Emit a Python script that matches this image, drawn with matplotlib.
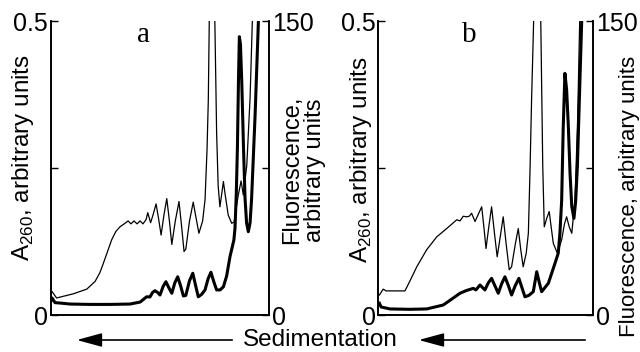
import matplotlib
matplotlib.use("Agg")
import matplotlib.pyplot as plt
from matplotlib.patches import FancyArrowPatch

plt.rcParams['font.family'] = ['Liberation Sans', 'DejaVu Sans']
plt.rcParams['mathtext.fontset'] = 'custom'
plt.rcParams['mathtext.rm'] = 'Liberation Sans'

# panel a: thin = A260 (left axis), thick = fluorescence (right axis)
a_thin_x = [0, 0.6, 2.7, 10.3, 16.5, 20.3, 22.5, 24.1, 26.0, 27.9, 29.8, 31.7, 34.0, 35.4,
            36.7, 38.1, 39.5, 40.9, 42.2, 43.6, 44.4, 45.7, 46.8, 48.2, 49.3, 50.5, 51.8,
            53.1, 54.3, 55.4, 57.0, 58.7, 59.9, 61.0, 61.8, 63.5, 65.2, 66.5, 67.8, 69.5,
            70.6, 71.5, 72.1, 72.6, 73.8, 75.0, 75.9, 76.6, 77.4, 78.2, 79.0, 79.8, 81.2,
            82.8, 83.9, 85.0, 85.8, 87.1, 88.1, 89.7, 91.2, 92.4]
a_thin_y = [0.036, 0.040, 0.029, 0.036, 0.044, 0.057, 0.072, 0.088, 0.108, 0.128, 0.142,
            0.150, 0.156, 0.160, 0.155, 0.160, 0.155, 0.160, 0.155, 0.162, 0.174, 0.157,
            0.170, 0.189, 0.165, 0.136, 0.170, 0.198, 0.160, 0.120, 0.160, 0.193, 0.150,
            0.108, 0.112, 0.160, 0.192, 0.165, 0.139, 0.160, 0.196, 0.28, 0.366, 0.52, 0.70,
            0.52, 0.31, 0.22, 0.184, 0.205, 0.227, 0.205, 0.170, 0.156, 0.158, 0.185, 0.204,
            0.228, 0.204, 0.255, 0.369, 0.52]
a_thick_x = [0, 0.6, 2.0, 4.3, 8.8, 18, 27.1, 36.3, 40.9, 43.9, 45.4, 46.6, 47.7, 48.9, 50.0,
             51.4, 52.7, 54.0, 55.4, 56.8, 58.1, 59.4, 60.7, 61.8, 63.5, 65.0, 66.3, 67.5,
             69.0, 70.6, 72.0, 73.3, 74.6, 75.9, 77.5, 79.0, 80.5, 82.0, 83.8, 84.3, 84.9,
             85.4, 85.9, 86.3, 86.8, 87.4, 88.2, 88.9, 89.6, 90.4, 91.2, 91.9, 93.5, 95.0,
             95.7]
a_thick_y = [6.8, 8.7, 6.3, 6.1, 5.6, 5.4, 5.4, 5.6, 6.6, 9.3, 9.2, 11.5, 12.4, 11.5, 10.2,
             14.5, 17.0, 14.0, 11.1, 16.5, 19.5, 15.0, 9.7, 10.0, 17.5, 21.3, 15.0, 9.3,
             10.5, 12.8, 18.5, 21.8, 17.0, 12.8, 12.8, 14.4, 20.0, 29.7, 38.3, 44.2, 62.0,
             85.0, 120.0, 142.0, 138.0, 119.0, 85.0, 59.5, 47.0, 42.5, 47.0, 59.5, 102.0,
             149.6, 160.0]

# panel b
b_thin_x = [0.5, 2.3, 3.6, 12.4, 15.0, 17.9, 22.5, 27.2, 31.8, 36.5, 38.0, 39.5, 41.1, 42.3,
            43.4, 45.0, 46.6, 48.1, 49.1, 50.1, 51.4, 52.7, 54.0, 55.3, 56.8, 58.1, 59.5,
            60.9, 62.0, 63.7, 65.1, 66.3, 67.4, 68.8, 69.8, 70.6, 71.3, 72.4, 73.8, 75.5,
            76.5, 77.2, 78.4, 79.5, 80.4, 81.4, 83.3, 85.3, 86.6, 87.6, 88.8, 90.0, 91.5,
            92.7, 93.8]
b_thin_y = [0.034, 0.044, 0.041, 0.041, 0.060, 0.082, 0.111, 0.133, 0.147, 0.162, 0.160,
            0.168, 0.167, 0.168, 0.173, 0.159, 0.172, 0.184, 0.150, 0.113, 0.150, 0.184,
            0.140, 0.099, 0.135, 0.167, 0.120, 0.077, 0.082, 0.120, 0.147, 0.110, 0.082,
            0.105, 0.139, 0.25, 0.366, 0.52, 0.70, 0.52, 0.252, 0.150, 0.165, 0.176, 0.150,
            0.122, 0.105, 0.128, 0.155, 0.167, 0.150, 0.139, 0.196, 0.33, 0.52]
b_thick_x = [0.5, 1.3, 5.4, 14.7, 22.5, 26.0, 30.2, 34.0, 38.0, 41.0, 44.2, 45.4, 47.3, 49.6,
             51.2, 52.7, 54.2, 55.8, 57.4, 58.9, 60.5, 62.0, 63.7, 65.4, 66.8, 68.2, 70.0,
             72.1, 73.7, 75.0, 76.0, 79.1, 82.2, 83.7, 84.5, 85.3, 86.0, 86.8, 87.6, 88.4,
             89.2, 90.0, 91.0, 91.8, 92.6, 94.6, 95.2]
b_thick_y = [6.0, 4.1, 3.1, 2.9, 3.1, 4.0, 5.1, 8.0, 11.1, 12.5, 13.6, 12.8, 15.3, 12.8,
             16.5, 18.7, 15.0, 11.1, 16.0, 19.5, 15.0, 10.2, 15.0, 18.7, 14.0, 9.3, 10.0,
             11.9, 22.1, 16.0, 11.9, 16.2, 26.4, 31.5, 42.0, 58.7, 95.0, 123.3, 115.0, 96.1,
             72.0, 55.3, 49.3, 58.0, 75.7, 149.6, 160.0]

fig = plt.figure(figsize=(6.4, 3.52), dpi=100)
FS = 18


def panel(rect, tx, ty, kx, ky, letter):
    ax = fig.add_axes(rect)
    ax.plot(tx, ty, color='black', lw=0.9)
    ax.set_xlim(0, 100)
    ax.set_ylim(0, 0.5)
    ax.set_yticks([0, 0.25, 0.5])
    ax.set_yticklabels(['0', '', '0.5'])
    ax.set_xticks([])
    ax.spines['top'].set_visible(False)
    ax2 = ax.twinx()
    ax2.plot(kx, ky, color='black', lw=2.2)
    ax2.set_ylim(0, 150)
    ax2.set_yticks([0, 75, 150])
    ax2.set_yticklabels(['0', '', '150'])
    ax2.spines['top'].set_visible(False)
    for a in (ax, ax2):
        a.tick_params(direction='in', length=5, width=1, labelsize=FS, pad=2)
        for s in a.spines.values():
            s.set_linewidth(1.2)
    ax.text(0.425, 0.995, letter, transform=ax.transAxes, ha='center', va='top',
            fontsize=21, family=['Liberation Serif'])
    return ax, ax2


panel([0.0792, 0.1051, 0.3416, 0.8352], a_thin_x, a_thin_y, a_thick_x, a_thick_y, 'a')
panel([0.5911, 0.1051, 0.3359, 0.8352], b_thin_x, b_thin_y, b_thick_x, b_thick_y, 'b')

ylab = 'A$_{260}$, arbitrary units'
fig.text(23 / 640, 1 - 158 / 352, ylab, rotation=90, ha='center', va='center', fontsize=17.5)
fig.text(361 / 640, 1 - 160 / 352, ylab, rotation=90, ha='center', va='center', fontsize=17.5)
fig.text(304 / 640, 1 - 170 / 352, 'Fluorescence,\narbitrary units', rotation=90,
         ha='center', va='center', fontsize=17, multialignment='center', linespacing=1.05)
fig.text(630 / 640, 1 - 196 / 352, 'Fluorescence, arbitrary units', rotation=90,
         ha='center', va='center', fontsize=16)

fig.text(320 / 640, 1 - 340 / 352, 'Sedimentation', ha='center', va='center', fontsize=17.5)
for x0, x1 in [(235, 74), (588, 416)]:
    arr = FancyArrowPatch((x0 / 640, 1 - 340 / 352), (x1 / 640, 1 - 340 / 352),
                          transform=fig.transFigure,
                          arrowstyle='-|>,head_length=1.1,head_width=0.3',
                          mutation_scale=14, color='black', lw=1.2)
    fig.patches.append(arr)

fig.savefig('out.png', dpi=100)
